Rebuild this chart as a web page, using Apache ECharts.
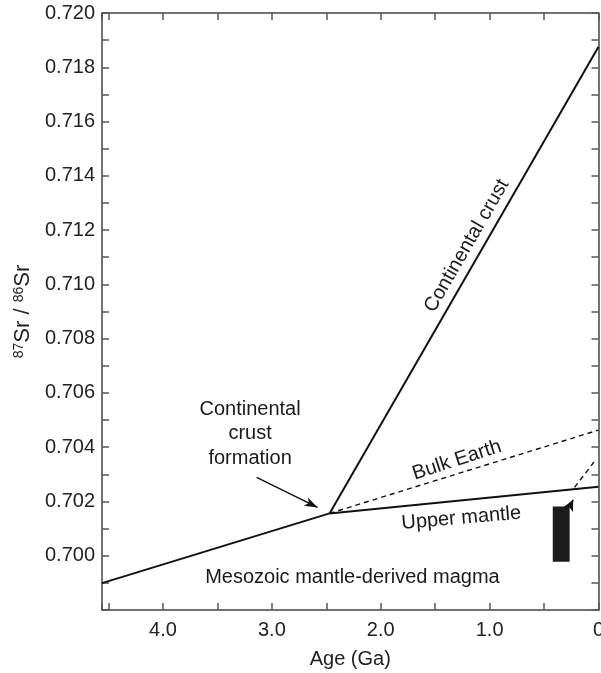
<!DOCTYPE html>
<html>
<head>
<meta charset="utf-8">
<script src="https://cdn.jsdelivr.net/npm/echarts@6/dist/echarts.min.js"></script>
<style>
html,body{margin:0;padding:0;background:#fff;}
#chart{width:601px;height:673px;}
</style>
</head>
<body>
<div id="chart"></div>
<script>
// ---- data (age in Ga, 87Sr/86Sr) ----
const earlyMantle   = [[4.56, 0.69899], [2.47, 0.70156]];
const continentalCrust = [[2.47, 0.70156], [0, 0.71876]];
const bulkEarth     = [[2.47, 0.70156], [0, 0.70463]];
const upperMantle   = [[2.47, 0.70156], [0, 0.70254]];
const magmaTrend    = [[0.22, 0.70252], [0.04, 0.70346]];
const magmaBox      = [[0.42, 0.265, 0.69978, 0.70181]];
const formationArrow = [[3.14, 0.70289], [2.58, 0.70178]];
const magmaArrow    = [[0.268, 0.70178], [0.233, 0.70206]];
const xTickLabels = ['0', '1.0', '2.0', '3.0', '4.0'];
const yTickLabels = ['0.700','0.702','0.704','0.706','0.708','0.710','0.712','0.714','0.716','0.718','0.720'];
const annotations = [
  {name: 'Continental crust', at: [1.21, 0.71142], rotate: 60},
  {name: 'Bulk Earth', at: [1.30, 0.70352], rotate: 18},
  {name: 'Upper mantle', at: [1.26, 0.70138], rotate: 5},
  {name: 'Mesozoic mantle-derived magma', at: [2.26, 0.69918], rotate: 0},
  {name: 'Continental\ncrust\nformation', at: [3.20, 0.70449], rotate: 0}
];

const FONT = '"Liberation Sans", Arial, Helvetica, sans-serif';
const TXT = '#222';
const AX = '#444';

function xFmt(v) {
  const r = Math.round(v * 10);
  if (Math.abs(v - r / 10) > 1e-6 || r % 10 !== 0) return '';
  const s = r === 0 ? '0' : (r / 10).toFixed(1);
  return xTickLabels.indexOf(s) >= 0 ? s : '';
}
function yFmt(v) {
  const s = v.toFixed(3);
  return yTickLabels.indexOf(s) >= 0 ? s : '';
}

const axisCommon = {
  type: 'value',
  axisLine: {show: true, onZero: false, lineStyle: {color: AX, width: 1.5}},
  axisTick: {show: true, inside: true, length: 7, lineStyle: {color: '#555', width: 1.5}},
  splitLine: {show: false},
  minorTick: {show: false}
};

const chart = echarts.init(document.getElementById('chart'), null, {renderer: 'canvas'});

function lineSeries(data, dashed, width) {
  return {
    type: 'line', data: data, xAxisIndex: 0, yAxisIndex: 0,
    symbol: 'none', silent: true, animation: false,
    lineStyle: {color: '#111', width: width || 2, type: dashed ? [5, 4] : 'solid'},
    z: 3
  };
}
function arrowSeries(pts, size) {
  return {
    type: 'line', data: [], xAxisIndex: 0, yAxisIndex: 0, silent: true, animation: false,
    markLine: {
      silent: true, animation: false,
      symbol: ['none', 'arrow'], symbolSize: size,
      label: {show: false},
      lineStyle: {color: '#111', width: 1.5, type: 'solid'},
      emphasis: {disabled: true},
      data: [[{coord: pts[0]}, {coord: pts[1]}]]
    }
  };
}

chart.setOption({
  animation: false,
  backgroundColor: '#fff',
  textStyle: {fontFamily: FONT},
  grid: {left: 102, right: 2.5, top: 13, bottom: 63, containLabel: false, outerBoundsMode: 'none'},
  xAxis: [
    Object.assign({}, axisCommon, {
      position: 'bottom', inverse: true, min: 0, max: 4.56, interval: 0.5,
      name: 'Age (Ga)', nameLocation: 'middle', nameGap: 39,
      nameTextStyle: {fontSize: 20, color: TXT, fontFamily: FONT},
      axisLabel: {show: true, formatter: xFmt, fontSize: 20, color: TXT, margin: 10, fontFamily: FONT, showMinLabel: true, showMaxLabel: true}
    }),
    Object.assign({}, axisCommon, {
      position: 'top', inverse: true, min: 0, max: 4.56, interval: 0.5,
      axisLabel: {show: false}
    })
  ],
  yAxis: [
    Object.assign({}, axisCommon, {
      position: 'left', min: 0.698, max: 0.720, interval: 0.001,
      name: '{sup|87}{b|Sr / }{sup|86}{b|Sr}', nameLocation: 'middle', nameGap: 66, nameRotate: 90,
      nameTextStyle: {
        color: TXT, fontFamily: FONT, fontSize: 22,
        rich: {
          sup: {fontSize: 14, verticalAlign: 'top', lineHeight: 22, color: TXT, fontFamily: FONT},
          b: {fontSize: 22, lineHeight: 22, color: TXT, fontFamily: FONT}
        }
      },
      axisLabel: {show: true, formatter: yFmt, fontSize: 20, color: TXT, margin: 7, fontFamily: FONT}
    }),
    Object.assign({}, axisCommon, {
      position: 'right', min: 0.698, max: 0.720, interval: 0.001,
      axisLabel: {show: false}
    })
  ],
  series: [
    lineSeries(earlyMantle),
    lineSeries(continentalCrust),
    lineSeries(bulkEarth, true, 1.4),
    lineSeries(upperMantle),
    lineSeries(magmaTrend, true, 1.4),
    {
      type: 'custom', xAxisIndex: 0, yAxisIndex: 0, silent: true, animation: false,
      data: magmaBox,
      renderItem: function (params, api) {
        const p0 = api.coord([api.value(0), api.value(3)]);
        const p1 = api.coord([api.value(1), api.value(2)]);
        return {
          type: 'rect',
          shape: {x: Math.min(p0[0], p1[0]), y: Math.min(p0[1], p1[1]),
                  width: Math.abs(p1[0] - p0[0]), height: Math.abs(p1[1] - p0[1])},
          style: {fill: '#1c1c1c'}
        };
      },
      z: 4
    },
    arrowSeries(formationArrow, [7, 13]),
    arrowSeries(magmaArrow, [8, 11]),
    {
      type: 'scatter', xAxisIndex: 0, yAxisIndex: 0, silent: true, animation: false,
      symbolSize: 0,
      itemStyle: {opacity: 1, color: 'transparent'},
      data: annotations.map(a => ({
        value: a.at, name: a.name,
        label: {rotate: a.rotate}
      })),
      label: {
        show: true, position: 'inside', formatter: '{b}', opacity: 1,
        fontSize: 20, color: '#1a1a1a', fontFamily: FONT, lineHeight: 24.5, align: 'center', verticalAlign: 'middle',
        textBorderWidth: 0
      },
      z: 5
    }
  ]
});
</script>
</body>
</html>
